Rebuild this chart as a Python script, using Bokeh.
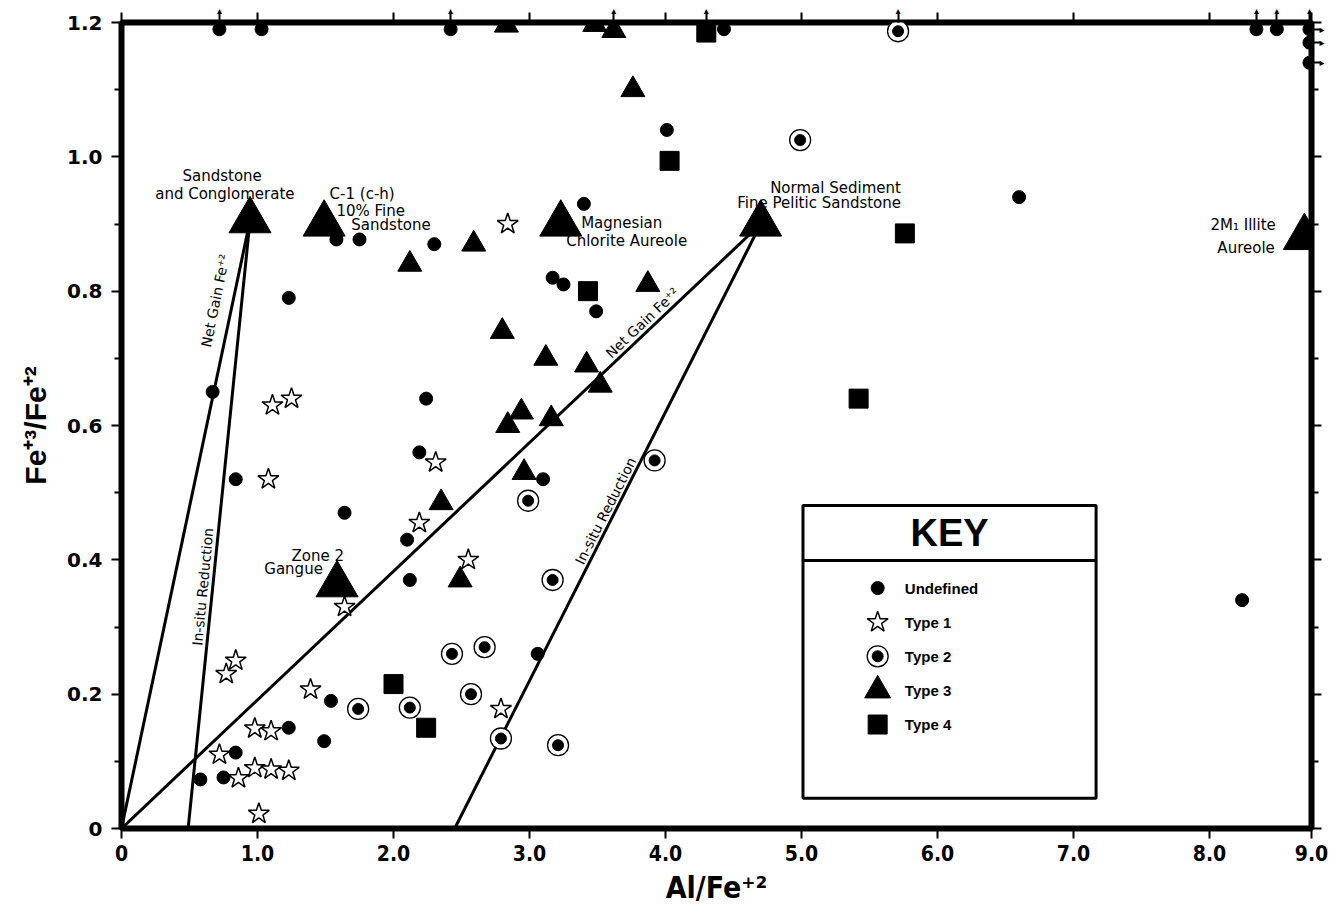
import numpy as np
from bokeh.plotting import figure
from bokeh.models import Range1d, LinearAxis, FixedTicker, Label, BoxAnnotation
from bokeh.embed import file_html
from bokeh.resources import INLINE

# ---------------- data ----------------
# Undefined (filled dots)
undef_x = [0.72, 1.03, 2.42, 4.43, 8.46, 8.66, 8.98, 8.98, 8.98,
           4.01, 6.60, 1.58, 1.75, 2.30, 3.40, 1.23, 3.17, 3.25, 3.49,
           0.67, 2.24, 2.19, 0.84, 3.10, 1.64, 2.10, 2.12, 3.06, 1.54,
           1.23, 1.49, 0.84, 0.75, 0.58, 8.32]
undef_y = [1.19, 1.19, 1.19, 1.19, 1.19, 1.19, 1.19, 1.17, 1.14,
           1.04, 0.94, 0.877, 0.877, 0.87, 0.93, 0.79, 0.82, 0.81, 0.77,
           0.65, 0.64, 0.56, 0.52, 0.52, 0.47, 0.43, 0.37, 0.26, 0.19,
           0.15, 0.13, 0.113, 0.076, 0.073, 0.34]
# Type 1 (open stars)
t1_x = [2.84, 1.11, 1.25, 1.08, 2.31, 2.19, 2.55, 1.64, 0.84, 0.77,
        1.39, 2.79, 0.98, 1.10, 0.72, 0.86, 0.98, 1.10, 1.23, 1.01]
t1_y = [0.90, 0.63, 0.64, 0.52, 0.545, 0.455, 0.40, 0.33, 0.25, 0.23,
        0.207, 0.178, 0.149, 0.145, 0.11, 0.075, 0.09, 0.088, 0.086, 0.022]
# Type 2 (ringed dots)
t2_x = [5.71, 4.99, 3.92, 2.99, 3.17, 2.43, 2.67, 1.74, 2.12, 2.57, 2.79, 3.21]
t2_y = [1.187, 1.025, 0.548, 0.488, 0.37, 0.26, 0.27, 0.178, 0.18, 0.20, 0.134, 0.124]
# Type 3 (triangles)
t3_x = [2.83, 3.48, 3.62, 3.76, 2.12, 2.59, 3.87, 2.80, 3.12, 3.42,
        3.52, 2.94, 2.84, 3.16, 2.96, 2.35, 2.49]
t3_y = [1.196, 1.197, 1.188, 1.10, 0.84, 0.87, 0.81, 0.74, 0.70, 0.69,
        0.66, 0.62, 0.60, 0.61, 0.53, 0.485, 0.37]
# Type 3 reference materials (large triangles)
ref_x = [0.945, 1.49, 3.23, 4.70, 1.585, 8.93]
ref_y = [0.905, 0.90, 0.90, 0.90, 0.363, 0.88]
# Type 4 (squares)
t4_x = [4.30, 4.03, 3.43, 5.76, 5.42, 2.00, 2.24]
t4_y = [1.185, 0.994, 0.80, 0.886, 0.64, 0.215, 0.15]
# trend lines (start x, start y, end x, end y)
line_x0 = [0.0, 0.49, 0.0, 2.45]
line_y0 = [0.0, 0.0, 0.0, 0.0]
line_x1 = [0.945, 0.945, 4.70, 4.70]
line_y1 = [0.905, 0.905, 0.90, 0.90]
# off-scale indicators (values beyond the axes)
top_off_x = [0.72, 2.42, 3.62, 4.30, 5.71, 8.46, 8.66, 8.98]
right_off_y = [1.19, 1.17, 1.14]
# axis ticks
x_ticks = [0, 1, 2, 3, 4, 5, 6, 7, 8, 9]
x_tick_labels = ["0", "1.0", "2.0", "3.0", "4.0", "5.0", "6.0", "7.0", "8.0", "9.0"]
y_ticks = [0, 0.2, 0.4, 0.6, 0.8, 1.0, 1.2]
y_tick_labels = ["0", "0.2", "0.4", "0.6", "0.8", "1.0", "1.2"]
y_minor = [0.1, 0.3, 0.5, 0.7, 0.9, 1.1]


# the original x axis has its last interval (8 to 9) drawn at 3/4 scale
def sx(v):
    v = np.asarray(v, dtype=float)
    return np.where(v <= 8, v, 8 + (v - 8) * 0.75)


FONT = "Liberation Sans"
ANN = "DejaVu Sans"
COND = "DejaVu Sans Condensed, Liberation Sans, sans-serif"

p = figure(width=1336, height=908, frame_width=1190, frame_height=806,
           x_range=Range1d(0, float(sx(9))), y_range=Range1d(0, 1.2),
           output_backend="svg", toolbar_location=None,
           min_border_left=121, min_border_right=25, min_border_top=22,
           min_border_bottom=80, x_axis_location=None, y_axis_location=None)
p.xgrid.visible = False
p.ygrid.visible = False
p.outline_line_color = "black"
p.outline_line_width = 6
p.background_fill_color = "white"

xt = [float(v) for v in sx(x_ticks)]


def style_axis(ax):
    ax.axis_line_color = None
    ax.major_tick_line_color = "black"
    ax.major_tick_line_width = 2
    ax.major_tick_in = 0
    ax.major_tick_out = 10
    ax.minor_tick_line_color = "black"
    ax.minor_tick_line_width = 2
    ax.minor_tick_in = 0
    ax.minor_tick_out = 7
    ax.major_label_text_color = "black"
    ax.axis_label_text_color = "black"


# bottom axis
xb = LinearAxis(ticker=FixedTicker(ticks=xt),
                major_label_overrides=dict(zip(xt, x_tick_labels)))
style_axis(xb)
xb.major_label_text_font = COND
xb.major_label_text_font_style = "bold"
xb.major_label_text_font_size = "21px"
xb.major_label_standoff = 6
xb.axis_label = "Al/Fe\u207a\u00b2"
xb.axis_label_text_font = COND
xb.axis_label_text_font_style = "bold"
xb.axis_label_text_font_size = "30px"
xb.axis_label_standoff = 6
p.add_layout(xb, "below")

# top axis: integer ticks plus off-scale arrows
top_ticks = xt + [float(v) for v in sx(top_off_x)]
top_labels = {t: "" for t in xt}
top_labels.update({float(v): "\u25b4" for v in sx(top_off_x)})
xtop = LinearAxis(ticker=FixedTicker(ticks=top_ticks), major_label_overrides=top_labels)
style_axis(xtop)
xtop.major_label_standoff = -3
xtop.major_label_text_font = ANN
xtop.major_label_text_font_size = "10px"
p.add_layout(xtop, "above")

# left axis
yl = LinearAxis(ticker=FixedTicker(ticks=y_ticks, minor_ticks=y_minor),
                major_label_overrides=dict(zip(y_ticks, y_tick_labels)))
style_axis(yl)
yl.major_label_text_font = ANN
yl.major_label_text_font_style = "bold"
yl.major_label_text_font_size = "20px"
yl.major_label_standoff = 9
yl.axis_label = "Fe\u207a\u00b3/Fe\u207a\u00b2"
yl.axis_label_text_font = FONT
yl.axis_label_text_font_style = "bold"
yl.axis_label_text_font_size = "30px"
yl.axis_label_standoff = 12
p.add_layout(yl, "left")

# right axis: ticks plus off-scale arrows
right_ticks = y_ticks + right_off_y
right_labels = {t: "" for t in y_ticks}
right_labels.update({v: "\u25b8" for v in right_off_y})
yr = LinearAxis(ticker=FixedTicker(ticks=right_ticks, minor_ticks=y_minor),
                major_label_overrides=right_labels)
style_axis(yr)
yr.major_label_standoff = -2
yr.major_label_text_font = ANN
yr.major_label_text_font_size = "10px"
p.add_layout(yr, "right")

# ---------------- trend lines ----------------
p.segment(x0=sx(line_x0), y0=line_y0, x1=sx(line_x1), y1=line_y1,
          line_color="black", line_width=3)

# ---------------- points ----------------
p.scatter(sx(undef_x), undef_y, marker="circle", size=13,
          fill_color="black", line_color="black")
p.scatter(sx(t1_x), t1_y, marker="star", size=22,
          fill_color="white", line_color="black", line_width=1.5)
p.scatter(sx(t2_x), t2_y, marker="circle", size=21,
          fill_color="white", line_color="black", line_width=1.3)
p.scatter(sx(t2_x), t2_y, marker="circle", size=11,
          fill_color="black", line_color="black")
p.scatter(sx(t3_x), t3_y, marker="triangle", size=24,
          fill_color="black", line_color="black")
p.scatter(sx(ref_x), ref_y, marker="triangle", size=42,
          fill_color="black", line_color="black")
p.scatter(sx(t4_x), t4_y, marker="square", size=19,
          fill_color="black", line_color="black")


# ---------------- annotations ----------------
def lab(x, y, t, align="center", size="15px", angle=0):
    p.add_layout(Label(x=float(sx(x)), y=y, text=t, text_align=align,
                       text_baseline="middle", text_font=ANN,
                       text_font_size=size, angle=angle, angle_units="deg",
                       text_color="black"))


lab(0.74, 0.971, "Sandstone")
lab(0.76, 0.944, "and Conglomerate")
lab(1.53, 0.945, "C-1 (c-h)", align="left")
lab(1.58, 0.92, "10% Fine", align="left")
lab(1.69, 0.898, "Sandstone", align="left")
lab(3.38, 0.902, "Magnesian", align="left")
lab(3.27, 0.874, "Chlorite Aureole", align="left")
lab(5.25, 0.953, "Normal Sediment")
lab(5.13, 0.932, "Fine Pelitic Sandstone")
lab(1.25, 0.406, "Zone 2", align="left")
lab(1.05, 0.386, "Gangue", align="left")
lab(8.65, 0.899, "2M\u2081 Illite", align="right")
lab(8.64, 0.865, "Aureole", align="right")

lab(0.69, 0.786, "Net Gain Fe\u207a\u00b2", size="14px", angle=78.5)
lab(0.598, 0.36, "In-situ Reduction", size="14px", angle=84.5)
lab(3.83, 0.753, "Net Gain Fe\u207a\u00b2", size="14px", angle=43.5)
lab(3.56, 0.473, "In-situ Reduction", size="14px", angle=63.1)

# ---------------- key ----------------
key_l, key_r = 5.011, 7.166
key_top, key_mid, key_bot = 0.481, 0.399, 0.045
for t, b in [(key_top, key_mid), (key_mid, key_bot)]:
    p.add_layout(BoxAnnotation(left=key_l, right=key_r, top=t, bottom=b,
                               fill_color="white", fill_alpha=1,
                               line_color="black", line_alpha=1,
                               line_width=3, level="underlay"))
p.add_layout(Label(x=(key_l + key_r) / 2, y=(key_top + key_mid) / 2, text="KEY",
                   text_align="center", text_baseline="middle", text_font=FONT,
                   text_font_style="bold", text_font_size="38px",
                   text_color="black"))
key_names = ["Undefined", "Type  1", "Type  2", "Type  3", "Type  4"]
mx = 5.56
tx = 5.76
ky = [0.358 - 0.0508 * i for i in range(5)]
p.scatter([mx], [ky[0]], marker="circle", size=13, fill_color="black", line_color="black")
p.scatter([mx], [ky[1]], marker="star", size=22, fill_color="white", line_color="black", line_width=1.5)
p.scatter([mx], [ky[2]], marker="circle", size=21, fill_color="white", line_color="black", line_width=1.3)
p.scatter([mx], [ky[2]], marker="circle", size=11, fill_color="black", line_color="black")
p.scatter([mx], [ky[3]], marker="triangle", size=26, fill_color="black", line_color="black")
p.scatter([mx], [ky[4]], marker="square", size=19, fill_color="black", line_color="black")
for name, yv in zip(key_names, ky):
    p.add_layout(Label(x=tx, y=yv, text=name, text_align="left",
                       text_baseline="middle", text_font=FONT,
                       text_font_style="bold", text_font_size="15px",
                       text_color="black"))

open("out.html", "w").write(file_html(p, INLINE))
